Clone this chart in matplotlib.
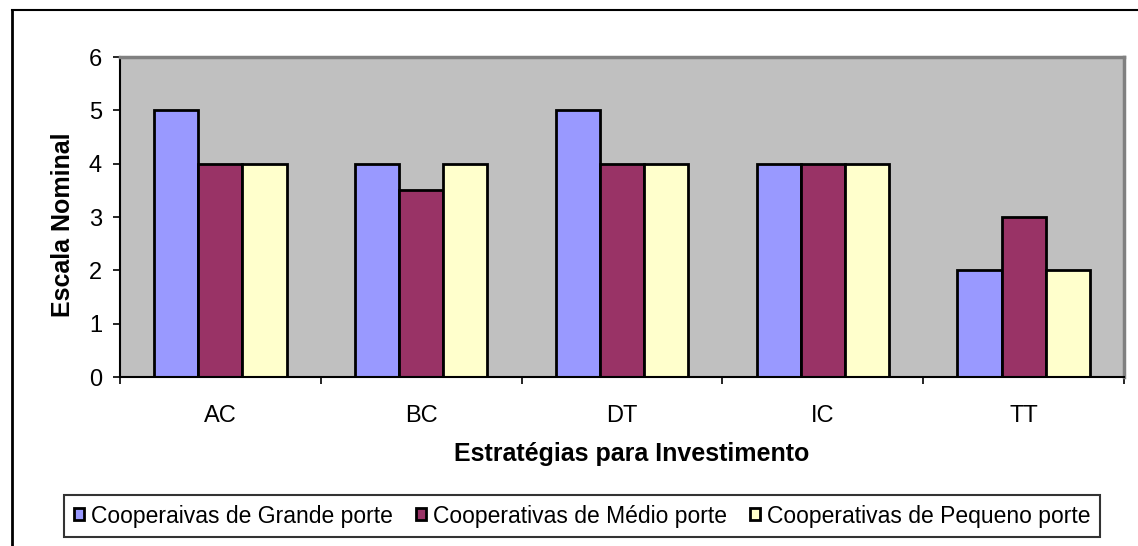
import numpy as np
import matplotlib.pyplot as plt
from matplotlib.lines import Line2D

plt.rcParams['font.family'] = ['Liberation Sans', 'DejaVu Sans']

categories = ['AC', 'BC', 'DT', 'IC', 'TT']
grande = [5, 4, 5, 4, 2]
medio = [4, 3.5, 4, 4, 3]
pequeno = [4, 4, 4, 4, 2]
labels = ['Cooperaivas de Grande porte', 'Cooperativas de Médio porte',
          'Cooperativas de Pequeno porte']
colors = ['#9999ff', '#993366', '#ffffcc']

fig = plt.figure(figsize=(11.38, 5.46), dpi=100)
ax = fig.add_axes([120/1138, 1-377/546, 1004/1138, 320/546])
ax.set_facecolor('#c0c0c0')

x = np.arange(len(categories))
w = 0.22
for i, (vals, lab, col) in enumerate(zip([grande, medio, pequeno], labels, colors)):
    ax.bar(x + (i-1)*w, vals, w, color=col, edgecolor='black', linewidth=2, label=lab)

ax.set_xlim(-0.5, len(categories)-0.5)
ax.set_ylim(0, 6)
ax.set_yticks(range(7))
ax.set_xticks(np.arange(-0.5, len(categories)))
ax.set_xticklabels([])
ax.set_xticks(x, minor=True)
ax.set_xticklabels(categories, minor=True, fontsize=17)
ax.tick_params(axis='x', which='minor', length=0, pad=20)
ax.tick_params(axis='x', which='major', length=5, width=1.2, direction='out')
ax.tick_params(axis='y', length=5, width=1.2, labelsize=17, pad=8)

for s in ['top', 'right']:
    ax.spines[s].set_color('#808080')
    ax.spines[s].set_linewidth(2.5)
ax.spines['left'].set_linewidth(1.5)
ax.spines['bottom'].set_linewidth(1.5)

ax.set_ylabel('Escala Nominal', fontsize=18, fontweight='bold', labelpad=10)
ax.set_xlabel('Estratégias para Investimento', fontsize=18, fontweight='bold', labelpad=11)
ax.xaxis.label.set_x(0.51)
ax.yaxis.label.set_y(0.475)

leg = fig.legend(loc='center', bbox_to_anchor=(582/1138, 1-516/546), ncol=3,
                 fontsize=16.5, frameon=True, fancybox=False, shadow=False,
                 handlelength=0.45, handleheight=0.45, handletextpad=0.3,
                 columnspacing=1.0, borderpad=0.4, borderaxespad=0)
leg.get_frame().set_edgecolor('black')
leg.get_frame().set_linewidth(1.5)

# outer chart border (only left and top edges visible in the crop)
fig.add_artist(Line2D([12/1138, 12/1138], [0, 1-10/546], transform=fig.transFigure,
                      color='black', linewidth=2))
fig.add_artist(Line2D([12/1138, 1], [1-10/546, 1-10/546], transform=fig.transFigure,
                      color='black', linewidth=1.5))

fig.savefig('out.png', dpi=100)
